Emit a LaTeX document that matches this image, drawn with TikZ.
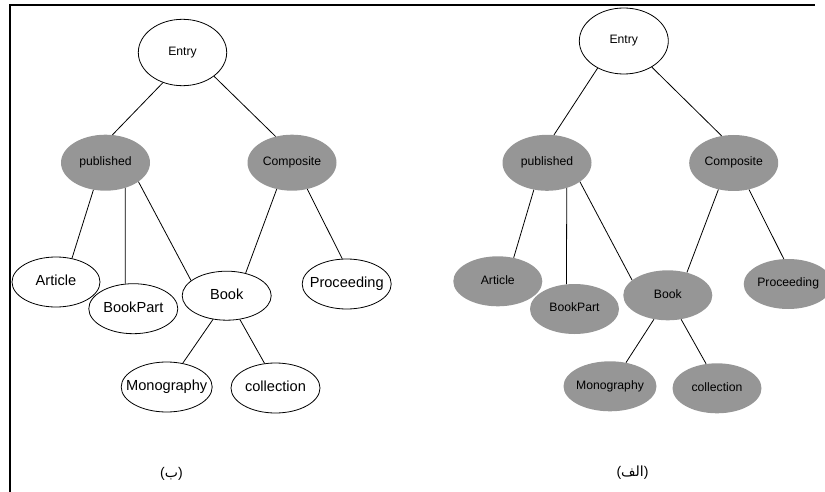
\documentclass[tikz,border=0pt]{standalone}
\usepackage{fontspec}
\setmainfont{Liberation Sans}
\newfontfamily\arabicfont[Script=Arabic]{DejaVu Sans}
\TeXXeTstate=1
\usetikzlibrary{shapes.geometric}
\definecolor{nodegray}{RGB}{150,150,150}
\newcommand\zbox[1]{\makebox[0pt]{\strut#1}}
\newcommand\arab[1]{{\arabicfont\beginR #1\endR}}
\tikzset{
  elli/.style={ellipse, inner sep=0pt, minimum width=89pt, minimum height=50pt},
  wnode/.style={elli, draw=black, line width=0.8pt, fill=white},
  gnode/.style={elli, draw=none, fill=nodegray},
  bigtxt/.style={font=\fontsize{14.6}{17}\selectfont},
  smalltxt/.style={font=\fontsize{12.2}{14}\selectfont},
  edge/.style={draw=black, line width=0.8pt},
  frameline/.style={draw=black, line width=2pt},
  caption/.style={font=\fontsize{14}{16}\selectfont, inner sep=0pt}
}
\begin{document}
\begin{tikzpicture}[x=1pt,y=-1pt]
\useasboundingbox (0,0) rectangle (825,492);
\coordinate (fb) at (9.5,493);
\coordinate (fc) at (9.5,5.5);
\coordinate (fr) at (815,5.5);
\draw[frameline] (fb) -- (fc) -- (fr);

% ---------- left diagram (b) ----------
\node[wnode, smalltxt, minimum width=88.4pt, minimum height=66.4pt] (E1) at (182.5,52.5) {\zbox{Entry}};
\node[gnode, smalltxt, minimum height=56pt] (P1) at (105.5,162.7) {\zbox{published}};
\node[gnode, smalltxt, minimum height=56pt] (C1) at (292,162.7) {\zbox{Composite}};
\node[wnode, bigtxt, minimum width=88pt] (A1) at (56,282) {\zbox{Article}};
\node[wnode, bigtxt] (BP1) at (133.3,308.7) {\zbox{BookPart}};
\node[wnode, bigtxt, minimum height=49pt] (B1) at (226.7,295.7) {\zbox{Book}};
\node[wnode, bigtxt] (PR1) at (346.7,284) {\zbox{Proceeding}};
\node[wnode, bigtxt, minimum width=91pt] (M1) at (166.7,387) {\zbox{Monography}};
\node[wnode, bigtxt] (CO1) at (275.5,388) {\zbox{collection}};

\draw[edge] (E1.237) -- (P1.76);
\draw[edge] (E1.323) -- (C1.122);
\draw[edge] (P1.246) -- (A1.56);
\draw[edge] (P1.308) -- (BP1.108);
\draw[edge] (P1.330) -- (B1.157.6);
\draw[edge] (C1.240) -- (B1.50);
\draw[edge] (C1.300) -- (PR1.100);
\draw[edge] (B1.240) -- (M1.56);
\draw[edge] (B1.299) -- (CO1.114);

\node[caption] (L1) at (171.5,474) {{(}\arab{ب}{)}};

% ---------- right diagram (alef) ----------
\node[wnode, smalltxt, minimum width=89pt, minimum height=66pt] (E2) at (623.8,41) {\zbox{Entry}};
\node[gnode, smalltxt, minimum height=56pt] (P2) at (547,162.8) {\zbox{published}};
\node[gnode, smalltxt, minimum height=56pt] (C2) at (733.7,163) {\zbox{Composite}};
\node[gnode, smalltxt] (A2) at (497.8,281.3) {\zbox{Article}};
\node[gnode, smalltxt] (BP2) at (574.5,309) {\zbox{BookPart}};
\node[gnode, smalltxt] (B2) at (667.8,295.3) {\zbox{Book}};
\node[gnode, smalltxt] (PR2) at (788.2,284) {\zbox{Proceeding}};
\node[gnode, smalltxt, minimum width=93pt] (M2) at (610,386.3) {\zbox{Monography}};
\node[gnode, smalltxt] (CO2) at (717,388.3) {\zbox{collection}};

\draw[edge] (E2.226) -- (P2.76);
\draw[edge] (E2.317) -- (C2.114);
\draw[edge] (P2.244) -- (A2.56);
\draw[edge] (P2.308) -- (BP2.108);
\draw[edge] (P2.330) -- (B2.157.6);
\draw[edge] (C2.240) -- (B2.50);
\draw[edge] (C2.300) -- (PR2.100);
\draw[edge] (B2.240) -- (M2.56);
\draw[edge] (B2.299) -- (CO2.114);

\node[caption] (L2) at (632.5,473) {{(}\arab{الف}{)}};
\end{tikzpicture}
\end{document}
